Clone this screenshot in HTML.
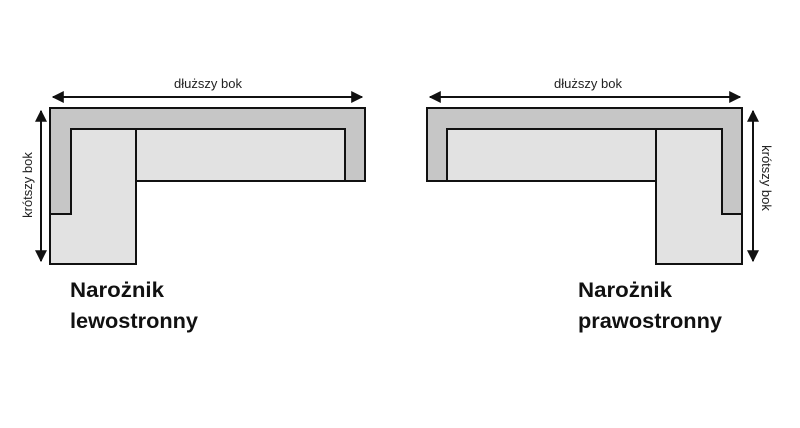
<!DOCTYPE html>
<html><head><style>body{margin:0;background:#fff}svg{display:block}</style></head><body>
<svg width="800" height="428" viewBox="0 0 800 428" xmlns="http://www.w3.org/2000/svg" font-family="Liberation Sans, sans-serif">
<defs><marker id="a" viewBox="0 0 10 10" refX="9" refY="5" markerWidth="6" markerHeight="6" orient="auto-start-reverse"><path d="M0,0L10,5L0,10z" fill="#111"/></marker></defs>
<g stroke="#111" stroke-width="2">
<path d="M50,108H365V181H136V264H50Z" fill="#c6c6c6"/>
<path d="M71,129H345V181H136V264H50V214H71Z" fill="#e2e2e2"/>
<line x1="136" y1="129" x2="136" y2="181"/>
<line x1="53" y1="97" x2="362" y2="97" marker-start="url(#a)" marker-end="url(#a)"/>
<line x1="41" y1="111" x2="41" y2="261" marker-start="url(#a)" marker-end="url(#a)"/>
<path d="M427,108H742V264H656V181H427Z" fill="#c6c6c6"/>
<path d="M447,129H722V214H742V264H656V181H447Z" fill="#e2e2e2"/>
<line x1="656" y1="129" x2="656" y2="181"/>
<line x1="430" y1="97" x2="740" y2="97" marker-start="url(#a)" marker-end="url(#a)"/>
<line x1="753" y1="111" x2="753" y2="261" marker-start="url(#a)" marker-end="url(#a)"/>
</g>
<g fill="#222" font-size="13">
<text x="208" y="88" text-anchor="middle">dłuższy bok</text>
<text x="588" y="88" text-anchor="middle">dłuższy bok</text>
<text transform="translate(32,185) rotate(-90)" text-anchor="middle">krótszy bok</text>
<text transform="translate(762,178) rotate(90)" text-anchor="middle">krótszy bok</text>
</g>
<g fill="#111" font-size="21" font-weight="bold">
<text x="70" y="297" textLength="94" lengthAdjust="spacingAndGlyphs">Narożnik</text>
<text x="70" y="328" textLength="128" lengthAdjust="spacingAndGlyphs">lewostronny</text>
<text x="578" y="297" textLength="94" lengthAdjust="spacingAndGlyphs">Narożnik</text>
<text x="578" y="328" textLength="144" lengthAdjust="spacingAndGlyphs">prawostronny</text>
</g>
</svg>
</body></html>
